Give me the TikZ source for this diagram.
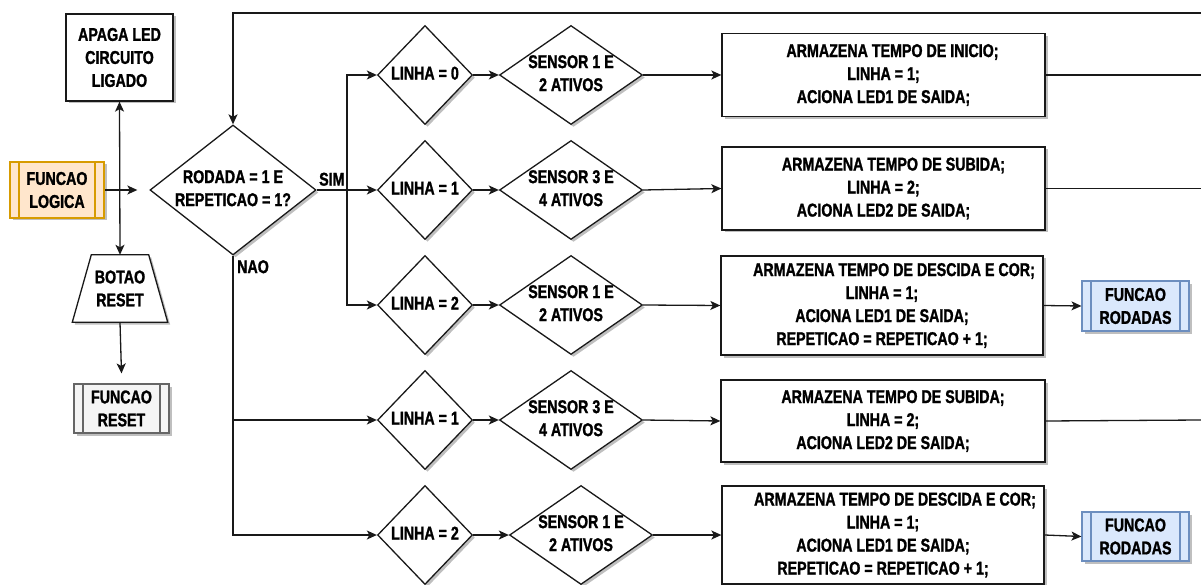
\documentclass[tikz,border=0pt]{standalone}
\usepackage{fontspec}
\setmainfont{Liberation Sans}[FakeStretch=0.77, BoldFeatures={FakeStretch=0.77, FakeBold=1.3}]
\usetikzlibrary{shapes.geometric,shadows,arrows.meta}
\tikzset{
  base/.style={draw=black!90, line width=1.3pt, fill=white, inner sep=0pt, align=center,
    font=\fontsize{18.5}{23}\selectfont\bfseries,
    drop shadow={shadow xshift=2.5pt, shadow yshift=-2.5pt, opacity=0.25, fill=black}},
  box/.style={base, rectangle},
  dia/.style={base, diamond},
  proc/.style={base, rectangle, draw=#1, line width=1.1pt,
    path picture={\draw[#1, line width=1.1pt]
      ([xshift=9pt]path picture bounding box.north west) -- ([xshift=9pt]path picture bounding box.south west)
      ([xshift=-9pt]path picture bounding box.north east) -- ([xshift=-9pt]path picture bounding box.south east);}},
  con/.style={draw=black!90, line width=1.3pt},
  arr/.style={con, -{Stealth[length=10pt, width=9pt, inset=2.5pt]}},
  dual/.style={con, {Stealth[length=10pt, width=9pt, inset=2.5pt]}-{Stealth[length=10pt, width=9pt, inset=2.5pt]}},
  lbl/.style={font=\fontsize{18.5}{23}\selectfont\bfseries, inner sep=0pt}
}
\definecolor{orfill}{HTML}{FFE6CC}
\definecolor{ordraw}{HTML}{D79B00}
\definecolor{blfill}{HTML}{DAE8FC}
\definecolor{bldraw}{HTML}{6C8EBF}
\definecolor{grfill}{HTML}{F5F5F5}
\definecolor{grdraw}{HTML}{666666}
\newcommand{\dtext}[1]{\makebox[0pt][c]{\begin{tabular}{@{}c@{}}#1\end{tabular}}}
\begin{document}
\begin{tikzpicture}[x=1pt,y=-1pt]
\useasboundingbox (0,0) rectangle (1201,585);
% left column
\node[box, minimum width=107pt, minimum height=87pt] (apaga) at (119.5,57.5) {APAGA LED\\CIRCUITO\\LIGADO};
\node[proc=ordraw, fill=orfill, minimum width=94pt, minimum height=56pt] (flog) at (57,190) {FUNCAO\\LOGICA};
\node[inner sep=0pt, minimum width=95pt, minimum height=67pt] (botao) at (120,288.5) {};
\draw[draw=black!90, line width=1.3pt, fill=white,
      drop shadow={shadow xshift=2.5pt, shadow yshift=-2.5pt, opacity=0.25, fill=black}]
  ([xshift=19pt]botao.north west) -- ([xshift=-19pt]botao.north east) -- (botao.south east) -- (botao.south west) -- cycle;
\node[lbl, align=center] (botaotxt) at (botao.center) {BOTAO\\RESET};
\node[proc=grdraw, fill=grfill, minimum width=95pt, minimum height=49pt] (freset) at (121.5,408.5) {FUNCAO\\RESET};
% main decision
\node[dia, minimum width=166pt, minimum height=130pt] (rod) at (233,190) {\dtext{RODADA = 1 E\\REPETICAO = 1?}};
% rows
\foreach \n/\y/\lt/\st/\sx in {1/75/0/SENSOR 1 E\\2 ATIVOS/571, 2/190/1/SENSOR 3 E\\4 ATIVOS/571, 3/305/2/SENSOR 1 E\\2 ATIVOS/571, 4/420/1/SENSOR 3 E\\4 ATIVOS/571, 5/535/2/SENSOR 1 E\\2 ATIVOS/581}{
  \node[dia, minimum width=95pt, minimum height=99pt] (L\n) at (425,\y) {\dtext{LINHA = \lt}};
  \node[dia, minimum width=143pt, minimum height=99pt] (S\n) at (\sx,\y) {\dtext{\st}};
}
\node[box, minimum width=323pt, minimum height=83pt] (B1) at (883.5,75) {\hspace*{18pt}ARMAZENA TEMPO DE INICIO;\\LINHA = 1;\\ACIONA LED1 DE SAIDA;};
\node[box, minimum width=323pt, minimum height=83pt] (B2) at (883.5,188.5) {\hspace*{20pt}ARMAZENA TEMPO DE SUBIDA;\\LINHA = 2;\\ACIONA LED2 DE SAIDA;};
\node[box, minimum width=322pt, minimum height=99pt] (B3) at (882,305.5) {\hspace*{24pt}ARMAZENA TEMPO DE DESCIDA E COR;\\LINHA = 1;\\ACIONA LED1 DE SAIDA;\\REPETICAO = REPETICAO + 1;};
\node[box, minimum width=324pt, minimum height=82pt] (B4) at (883,421) {\hspace*{20pt}ARMAZENA TEMPO DE SUBIDA;\\LINHA = 2;\\ACIONA LED2 DE SAIDA;};
\node[box, minimum width=322pt, minimum height=98pt] (B5) at (883,535) {\hspace*{24pt}ARMAZENA TEMPO DE DESCIDA E COR;\\LINHA = 1;\\ACIONA LED1 DE SAIDA;\\REPETICAO = REPETICAO + 1;};
\node[proc=bldraw, fill=blfill, minimum width=107pt, minimum height=50pt] (R3) at (1135.5,306) {FUNCAO\\RODADAS};
\node[proc=bldraw, fill=blfill, minimum width=107pt, minimum height=49pt] (R5) at (1135.5,536.5) {FUNCAO\\RODADAS};
% labels
\node[lbl, anchor=south west] (sim) at (319,186) {SIM};
\node[lbl, anchor=north west] (nao) at (237,260) {NAO};
% coordinates
\coordinate (otop) at (1201,13);
\coordinate (o1) at (1201,75);
\coordinate (o2) at (1201,190);
\coordinate (o4) at (1201,420);
\coordinate (bus) at (347,190);
% connectors
\draw[dual] (apaga.south) -- (botao.north);
\draw[arr] (flog.east) -- ([xshift=-12pt]rod.west);
\draw[arr] (botao.south) -- ([yshift=10pt]freset.north);
\draw[arr] (otop) -| (rod.north);
\draw[con] (rod.east) -- (bus);
\draw[arr] (bus) |- (L1.west);
\draw[arr] (bus) -- (L2.west);
\draw[arr] (bus) |- (L3.west);
\draw[arr] (rod.south) |- (L4.west);
\draw[arr] (rod.south) |- (L5.west);
\foreach \n in {1,...,5}{
  \draw[arr] (L\n.east) -- (S\n.west);
  \draw[arr] (S\n.east) -- (B\n.west);
}
\draw[con] (B1.east) -- (o1);
\draw[con] (B2.east) -- (B2.east -| o2);
\draw[con] (B4.east) -- (o4);
\draw[arr] (B3.east) -- (R3.west);
\draw[arr] (B5.east) -- (R5.west);
\end{tikzpicture}
\end{document}
